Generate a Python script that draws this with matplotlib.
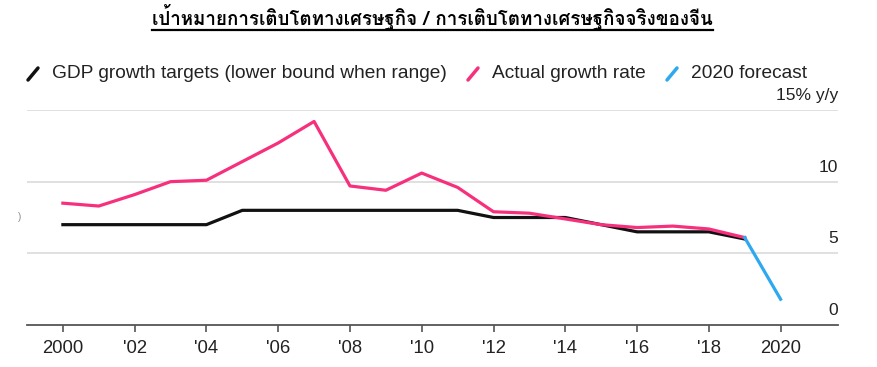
import matplotlib
matplotlib.use("Agg")
import matplotlib.pyplot as plt
from matplotlib import font_manager
from matplotlib.ft2font import FT2Font
from matplotlib.lines import Line2D

# data
years = list(range(2000, 2020))
targets = [7, 7, 7, 7, 7, 8, 8, 8, 8, 8, 8, 8, 7.5, 7.5, 7.5, 7, 6.5, 6.5, 6.5, 6]
actual = [8.5, 8.3, 9.1, 10.0, 10.1, 11.4, 12.7, 14.2, 9.7, 9.4,
          10.6, 9.6, 7.9, 7.8, 7.4, 7.0, 6.8, 6.9, 6.7, 6.1]
fc_years = [2019, 2020]
forecast = [6.1, 1.8]

xticks = [2000, 2002, 2004, 2006, 2008, 2010, 2012, 2014, 2016, 2018, 2020]
xlabels = ["2000", "'02", "'04", "'06", "'08", "'10", "'12", "'14", "'16", "'18", "2020"]
yticks = [0, 5, 10, 15]
ylabels = ["0", "5", "10", "15% y/y"]

title = "เป้าหมายการเติบโตทางเศรษฐกิจ / การเติบโตทางเศรษฐกิจจริงของจีน"
legend_labels = ["GDP growth targets (lower bound when range)",
                 "Actual growth rate", "2020 forecast"]

BLACK = "#111111"
PINK = "#f7307d"
BLUE = "#2ea8ee"
TXT = "#222222"


def thai_font():
    # look for any installed font that covers Thai script
    for f in font_manager.fontManager.ttflist:
        try:
            if 0x0E40 in FT2Font(f.fname).get_charmap():
                return f.name
        except Exception:
            pass
    return "DejaVu Sans"


plt.rcParams["font.family"] = ["Liberation Sans", "DejaVu Sans"]

fig = plt.figure(figsize=(8.77, 3.67), dpi=100)
W, H = 877, 367
ax = fig.add_axes([27 / W, 42 / H, (838 - 27) / W, 215 / H])

ax.plot(years, actual, color=PINK, lw=2.3, zorder=3)
ax.plot(years, targets, color=BLACK, lw=2.3, zorder=2)
ax.plot(fc_years, forecast, color=BLUE, lw=2.3, zorder=3)

ax.set_xlim(1999.0, 2021.6)
ax.set_ylim(0, 15)

for y in yticks[1:]:
    ax.axhline(y, color="#dddddd", lw=1.3, zorder=0)
for y, lab in zip(yticks, ylabels):
    ax.annotate(lab, xy=(1, y), xycoords=("axes fraction", "data"),
                xytext=(0, 5), textcoords="offset points",
                ha="right", va="bottom", fontsize=12.5, color=TXT,
                annotation_clip=False)

for s in ["top", "right", "left"]:
    ax.spines[s].set_visible(False)
ax.spines["bottom"].set_color("#555555")
ax.spines["bottom"].set_linewidth(1.3)
ax.set_yticks([])
ax.set_xticks(xticks)
ax.set_xticklabels(xlabels, fontsize=13.3, color=TXT)
ax.tick_params(axis="x", length=5, width=1.2, color="#555555", pad=6)

# legend: slanted strokes followed by labels
leg_x = [28, 468, 667]
for x0, col, lab in zip(leg_x, [BLACK, PINK, BLUE], legend_labels):
    fig.add_artist(Line2D([x0 / W, (x0 + 10) / W], [1 - 80 / H, 1 - 68 / H],
                          color=col, lw=2.5, solid_capstyle="round"))
    fig.text((x0 + 24) / W, 1 - 73 / H, lab, fontsize=13.8, color=TXT,
             ha="left", va="center")

# stray glyph at left edge of the original
fig.text(18 / W, 1 - 217 / H, ")", fontsize=7, color="#888888", ha="left", va="center")

# title, bold and underlined
t = fig.text(0.493, 1 - 17 / H, title, fontsize=13.5, fontweight="bold",
             family=[thai_font(), "DejaVu Sans"], ha="center", va="center")
fig.canvas.draw()
bb = t.get_window_extent()
fig.add_artist(Line2D([bb.x0 / W, bb.x1 / W], [1 - 30 / H, 1 - 30 / H],
                      color="black", lw=1.6))

fig.savefig("out.png", dpi=100)
